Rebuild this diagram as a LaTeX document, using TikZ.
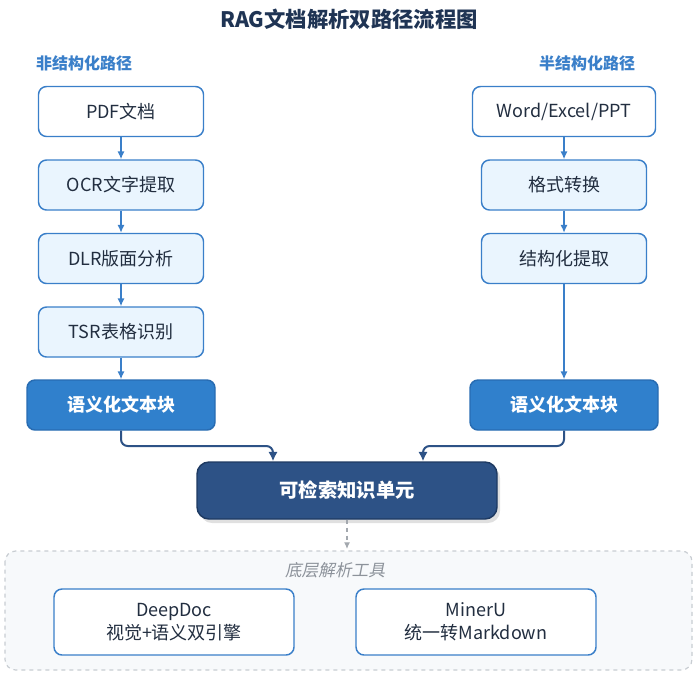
\documentclass[tikz,border=0pt]{standalone}
\usepackage{fontspec}
\setmainfont{Noto Sans CJK SC}
\newfontfamily\slantcjk[FakeSlant=0.2]{Noto Sans CJK SC}
\usetikzlibrary{arrows.meta}

\definecolor{flowblue}{RGB}{58,127,201}
\definecolor{lightfill}{RGB}{234,245,254}
\definecolor{semfill}{RGB}{48,128,204}
\definecolor{semdraw}{RGB}{40,108,178}
\definecolor{navyfill}{RGB}{45,82,134}
\definecolor{navydraw}{RGB}{30,58,98}
\definecolor{titlenavy}{RGB}{31,52,84}
\definecolor{textdark}{RGB}{34,46,64}
\definecolor{panelfill}{RGB}{247,249,251}
\definecolor{paneldraw}{RGB}{200,205,210}
\definecolor{toolgray}{RGB}{140,146,154}

\tikzset{every picture/.style={line width=0.75pt}}
\tikzset{
  stepbox/.style={draw=flowblue, fill=lightfill, rounded corners=6pt, line width=1.1pt,
    minimum width=123.75pt, minimum height=37.5pt, inner sep=0pt, text=textdark, font=\fontsize{13.5}{16}\selectfont},
  srcbox/.style={stepbox, fill=white},
  sembox/.style={draw=semdraw, fill=semfill, rounded corners=6pt, line width=1.1pt,
    minimum width=141pt, minimum height=37.5pt, inner sep=0pt, text=white, font=\fontsize{13.5}{16}\selectfont\bfseries},
  toolbox/.style={draw=flowblue, fill=white, rounded corners=6pt, line width=1.1pt,
    minimum width=180pt, minimum height=49.5pt, inner sep=0pt, align=center, text=textdark,
    font=\fontsize{13.5}{17}\selectfont},
  flow/.style={draw=flowblue, line width=1.1pt, -{Latex[length=6pt,width=5.5pt]}},
  merge/.style={draw=navyfill, line width=1.5pt, rounded corners=5pt, -{Latex[length=7pt,width=7pt]}},
  pathlabel/.style={text=flowblue, font=\fontsize{12}{14}\selectfont\bfseries},
}

\begin{document}
\begin{tikzpicture}[x=0.75pt,y=0.75pt,yscale=-1,xscale=1]
\useasboundingbox (0,0) rectangle (698,675);

%Shape: Rounded Rect [panel]
\draw [draw=paneldraw, fill=panelfill, dashed, line width=0.9pt, rounded corners=8pt] (5,551) rectangle (692,670);

% Text Node
\node (title) at (349,19) [text=titlenavy, font=\fontsize{16}{19}\selectfont\bfseries] {RAG文档解析双路径流程图};
% Text Node
\node (leftlabel) at (84,63) [pathlabel] {非结构化路径};
% Text Node
\node (rightlabel) at (587,63) [pathlabel] {半结构化路径};

%Shape: Left path
\node (pdf) at (121,111.5) [srcbox] {PDF文档};
\node (ocr) at (121,185) [stepbox] {OCR文字提取};
\node (dlr) at (121,258.5) [stepbox] {DLR版面分析};
\node (tsr) at (121,332) [stepbox] {TSR表格识别};
\node (semleft) at (121,405) [sembox] {语义化文本块};

%Shape: Right path
\node (office) at (564,111.5) [srcbox, minimum width=137.25pt] {Word/Excel/PPT};
\node (convert) at (564,185) [stepbox] {格式转换};
\node (extract) at (564,258.5) [stepbox] {结构化提取};
\node (semright) at (564,405) [sembox] {语义化文本块};

%Shape: Knowledge unit
\fill [black, opacity=0.12, rounded corners=9pt] (200,466) rectangle (500,523);
\node (unit) at (347,490.5) [draw=navydraw, fill=navyfill, rounded corners=9pt, line width=1.1pt,
  minimum width=225pt, minimum height=42.75pt, inner sep=0pt, text=white,
  font=\fontsize{14.5}{17}\selectfont\bfseries] {可检索知识单元};

% Text Node
\node (tooltitle) at (335,570) [text=toolgray, font=\fontsize{12.5}{15}\slantcjk] {底层解析工具};
\node (deepdoc) at (174,622) [toolbox] {DeepDoc\\视觉+语义双引擎};
\node (mineru) at (476,622) [toolbox] {MinerU\\统一转Markdown};

%Straight Lines
\draw [flow] (pdf) -- (ocr);
\draw [flow] (ocr) -- (dlr);
\draw [flow] (dlr) -- (tsr);
\draw [flow] (tsr) -- (semleft);
\draw [flow] (office) -- (convert);
\draw [flow] (convert) -- (extract);
\draw [flow] (extract) -- (semright);

%Elbow Lines
\draw [merge] (semleft.south) |- (273,446) -- (unit.north -| 273,0);
\draw [merge] (semright.south) |- (423,446) -- (unit.north -| 423,0);

%Dashed Line
\coordinate (panelTop) at (347,549);
\draw [draw=toolgray!80, dashed, line width=0.9pt, -{Latex[length=5pt,width=4.5pt]}] (unit.south) -- (panelTop);

\end{tikzpicture}
\end{document}
